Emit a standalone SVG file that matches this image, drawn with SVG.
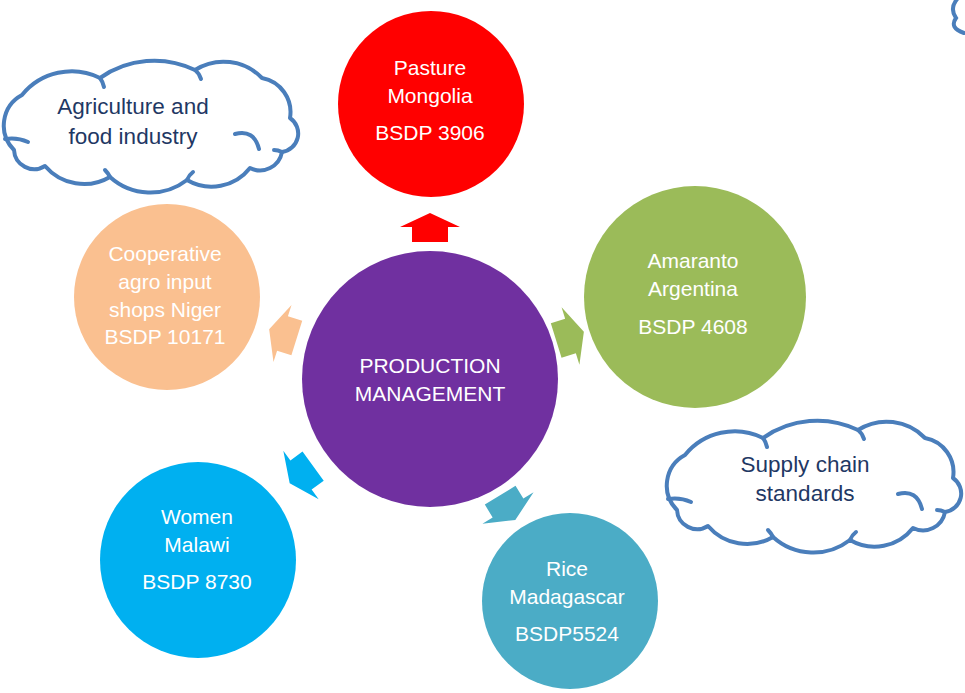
<svg xmlns="http://www.w3.org/2000/svg" xmlns:xlink="http://www.w3.org/1999/xlink" width="965" height="693" viewBox="0 0 965 693">
<style>
  .ct { font-family: "Liberation Sans", Arial, sans-serif; font-size: 21px; fill: #FFFFFF; text-anchor: middle; }
  .cl { font-family: "Liberation Sans", Arial, sans-serif; font-size: 22.5px; fill: #1F3864; text-anchor: middle; }
  .cloud { fill: #FFFFFF; stroke: #4A7EBB; stroke-width: 4; stroke-linejoin: round; stroke-linecap: round; }
  .inner { fill: none; stroke: #4A7EBB; stroke-width: 4; stroke-linecap: round; }
</style>
<defs>
  <polygon id="arrow" points="14,0 0,-30 0,-18 -15,-18 -15,18 0,18 0,30"/>
  <g id="cloudShape">
    <path class="cloud" d="M 14 150 A 34.6 34.6 0 0 1 22 95 A 63.9 63.9 0 0 1 100 78 A 93.8 93.8 0 0 1 195 70 A 53.5 53.5 0 0 1 262 78 A 34.8 34.8 0 0 1 290 118 A 18.7 18.7 0 0 1 282 152 A 22.3 22.3 0 0 1 250 168 A 48.8 48.8 0 0 1 187 180 A 60 60 0 0 1 110 177 A 51.3 51.3 0 0 1 45 166 A 20.2 20.2 0 0 1 14 150 Z"/>
    <path class="inner" d="M 5 139 Q 17 137 28 142"/>
    <path class="inner" d="M 235 134 Q 254 129 259 149"/>
    <path class="inner" d="M 100 78 Q 103 82 104 87"/>
    <path class="inner" d="M 195 70 Q 199 73 201 79"/>
    <path class="inner" d="M 282 152 Q 278 150 274 150"/>
    <path class="inner" d="M 187 180 Q 189 175 193 172"/>
    <path class="inner" d="M 110 177 Q 108 173 105 170"/>
  </g>
</defs>

<g id="cloud-agriculture">
  <use xlink:href="#cloudShape" href="#cloudShape"/>
  <text class="cl" x="133" y="114">Agriculture and</text>
  <text class="cl" x="133" y="144">food industry</text>
</g>

<g id="cloud-supply">
  <use xlink:href="#cloudShape" href="#cloudShape" transform="translate(663,360)"/>
  <text class="cl" x="805" y="472">Supply chain</text>
  <text class="cl" x="805" y="501">standards</text>
</g>

<g id="cloud-partial">
  <path class="inner" d="M 958 -2 Q 949 8 956 18 Q 949 28 964 33"/>
</g>

<g id="connectors">
  <use xlink:href="#arrow" href="#arrow" fill="#FF0000" transform="translate(430,227) rotate(-90)"/>
  <use xlink:href="#arrow" href="#arrow" fill="#9BBB59" transform="translate(570.5,336) rotate(-17.3)"/>
  <use xlink:href="#arrow" href="#arrow" fill="#4BACC6" transform="translate(508,508) rotate(58.5)"/>
  <use xlink:href="#arrow" href="#arrow" fill="#00B0F0" transform="translate(301,475) rotate(143.9)"/>
  <use xlink:href="#arrow" href="#arrow" fill="#FAC090" transform="translate(282.5,333.5) rotate(197.5)"/>
</g>

<g id="node-production">
  <circle cx="430" cy="379" r="128" fill="#7030A0"/>
  <text class="ct" x="430" y="373">PRODUCTION</text>
  <text class="ct" x="430" y="401">MANAGEMENT</text>
</g>

<g id="node-mongolia">
  <circle cx="431" cy="104" r="93" fill="#FF0000"/>
  <text class="ct" x="430" y="75">Pasture</text>
  <text class="ct" x="430" y="103">Mongolia</text>
  <text class="ct" x="430" y="140">BSDP 3906</text>
</g>

<g id="node-argentina">
  <circle cx="695" cy="297" r="111" fill="#9BBB59"/>
  <text class="ct" x="693" y="268">Amaranto</text>
  <text class="ct" x="693" y="296">Argentina</text>
  <text class="ct" x="693" y="334">BSDP 4608</text>
</g>

<g id="node-niger">
  <circle cx="167" cy="297" r="93" fill="#FAC090"/>
  <text class="ct" x="165" y="261">Cooperative</text>
  <text class="ct" x="165" y="289">agro input</text>
  <text class="ct" x="165" y="317">shops Niger</text>
  <text class="ct" x="165" y="344">BSDP 10171</text>
</g>

<g id="node-malawi">
  <circle cx="198" cy="560" r="98" fill="#00B0F0"/>
  <text class="ct" x="197" y="524">Women</text>
  <text class="ct" x="197" y="552">Malawi</text>
  <text class="ct" x="197" y="589">BSDP 8730</text>
</g>

<g id="node-madagascar">
  <circle cx="570" cy="601" r="88" fill="#4BACC6"/>
  <text class="ct" x="567" y="576">Rice</text>
  <text class="ct" x="567" y="604">Madagascar</text>
  <text class="ct" x="567" y="641">BSDP5524</text>
</g>
</svg>
